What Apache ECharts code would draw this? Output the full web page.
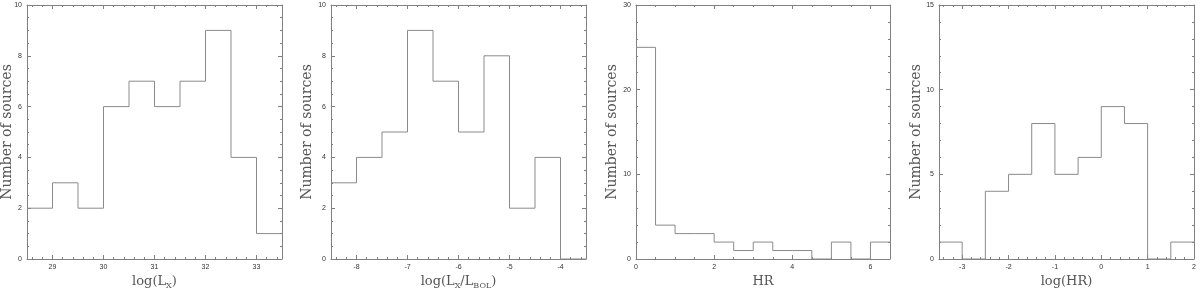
<!DOCTYPE html>
<html>
<head>
<meta charset="utf-8">
<script src="https://cdn.jsdelivr.net/npm/echarts@6/dist/echarts.min.js"></script>
<style>html,body{margin:0;padding:0;background:#fff;}#c{width:1200px;height:291px;}</style>
</head>
<body>
<div id="c"></div>
<script>
// ---- Data ----
const lxEdges = [28.5, 29, 29.5, 30, 30.5, 31, 31.5, 32, 32.5, 33, 33.5];
const lxCounts = [2, 3, 2, 6, 7, 6, 7, 9, 4, 1];
const lxTicks = [29, 30, 31, 32, 33];

const ratioEdges = [-8.5, -8, -7.5, -7, -6.5, -6, -5.5, -5, -4.5, -4, -3.5];
const ratioCounts = [3, 4, 5, 9, 7, 5, 8, 2, 4, 0];
const ratioTicks = [-8, -7, -6, -5, -4];

const hrEdges = [0, 0.5, 1, 1.5, 2, 2.5, 3, 3.5, 4, 4.5, 5, 5.5, 6, 6.5];
const hrCounts = [25, 4, 3, 3, 2, 1, 2, 1, 1, 0, 2, 0, 2];
const hrTicks = [0, 2, 4, 6];

const logHrEdges = [-3.5, -3, -2.5, -2, -1.5, -1, -0.5, 0, 0.5, 1, 1.5, 2];
const logHrCounts = [1, 0, 4, 5, 8, 5, 6, 9, 8, 0, 1];
const logHrTicks = [-3, -2, -1, 0, 1, 2];

const countTicks10 = [0, 2, 4, 6, 8, 10];
const countTicks30 = [0, 10, 20, 30];
const countTicks15 = [0, 5, 10, 15];

const yTitle = 'Number of sources';

// ---- Styling ----
const AX = '#808080';
const LINE = '#8a8a8a';
const LABEL = '#333';
const NAMEC = '#555';
const SERIF = 'DejaVu Serif';

const richName = {
  a: { fontFamily: SERIF, fontSize: 13, color: NAMEC, lineHeight: 17 },
  s: { fontFamily: SERIF, fontSize: 8, color: NAMEC, verticalAlign: 'bottom', lineHeight: 12 }
};

function stepData(edges, counts) {
  const d = counts.map((c, i) => [edges[i], c]);
  d.push([edges[edges.length - 1], counts[counts.length - 1]]);
  return d;
}

function makeAxes(dim, gi, min, max, major, minorStep, name, nameGap) {
  const minor = [];
  const n0 = Math.ceil(min / minorStep - 1e-9), n1 = Math.floor(max / minorStep + 1e-9);
  for (let k = n0; k <= n1; k++) {
    const v = +(k * minorStep).toFixed(6);
    if (!major.some(m => Math.abs(m - v) < 1e-6)) minor.push(v);
  }
  const pos = dim === 'x' ? ['bottom', 'top'] : ['left', 'right'];
  const base = {
    type: 'value', gridIndex: gi, min: min, max: max,
    splitLine: { show: false }, minorTick: { show: false },
    axisLine: { show: true, onZero: false, lineStyle: { color: AX, width: 1 } }
  };
  const tickMajor = { show: true, inside: true, length: 4, customValues: major, lineStyle: { color: AX, width: 1 } };
  const tickMinor = { show: true, inside: true, length: 2, customValues: minor, lineStyle: { color: AX, width: 1 } };
  const nameStyle = dim === 'x'
    ? { fontFamily: SERIF, fontSize: 13, color: NAMEC, rich: richName }
    : { fontFamily: SERIF, fontSize: 14, color: NAMEC, lineHeight: 17 };
  const main = Object.assign({}, base, {
    position: pos[0],
    axisTick: tickMajor,
    axisLabel: { show: true, customValues: major, fontSize: 7, color: LABEL, margin: 5, fontFamily: 'Liberation Sans' },
    name: name, nameLocation: 'middle', nameGap: nameGap, nameMoveOverlap: false,
    nameTextStyle: nameStyle
  });
  const mainMinor = Object.assign({}, base, {
    position: pos[0], axisLine: { show: false, onZero: false },
    axisTick: tickMinor, axisLabel: { show: false }
  });
  const mirror = Object.assign({}, base, {
    position: pos[1], axisTick: tickMajor, axisLabel: { show: false }
  });
  const mirrorMinor = Object.assign({}, base, {
    position: pos[1], axisLine: { show: false, onZero: false },
    axisTick: tickMinor, axisLabel: { show: false }
  });
  return [main, mainMinor, mirror, mirrorMinor];
}

const grids = [
  { left: 27, top: 5, width: 255, height: 254 },
  { left: 331, top: 5, width: 255, height: 254 },
  { left: 636, top: 5, width: 254, height: 254 },
  { left: 939, top: 5, width: 255, height: 254 }
].map(g => Object.assign(g, { containLabel: false, outerBoundsMode: 'none' }));

const yNameGaps = [11, 15, 15, 14];

const panelX = [
  [lxEdges, lxCounts, lxTicks, 0.2, '{a|log(L}{s|X}{a|)}'],
  [ratioEdges, ratioCounts, ratioTicks, 0.2, '{a|log(L}{s|X}{a|/L}{s|BOL}{a|)}'],
  [hrEdges, hrCounts, hrTicks, 0.5, '{a|HR}'],
  [logHrEdges, logHrCounts, logHrTicks, 0.2, '{a|log(HR)}']
];
const panelY = [
  [countTicks10, 0.5],
  [countTicks10, 0.5],
  [countTicks30, 2],
  [countTicks15, 1]
];

const xAxes = [], yAxes = [], series = [];
panelX.forEach((p, gi) => {
  const [edges, counts, ticks, mstep, nm] = p;
  const [yt, ystep] = panelY[gi];
  const xi = xAxes.length, yi = yAxes.length;
  xAxes.push(...makeAxes('x', gi, edges[0], edges[edges.length - 1], ticks, mstep, nm, 14));
  yAxes.push(...makeAxes('y', gi, yt[0], yt[yt.length - 1], yt, ystep, yTitle, yNameGaps[gi]));
  series.push({
    type: 'line', step: 'end', xAxisIndex: xi, yAxisIndex: yi,
    data: stepData(edges, counts), symbol: 'none', silent: true, animation: false,
    lineStyle: { color: LINE, width: 1 }
  });
});

const chart = echarts.init(document.getElementById('c'), null, { renderer: 'canvas' });
chart.setOption({
  animation: false,
  backgroundColor: '#fff',
  grid: grids,
  xAxis: xAxes,
  yAxis: yAxes,
  series: series
});
</script>
</body>
</html>
